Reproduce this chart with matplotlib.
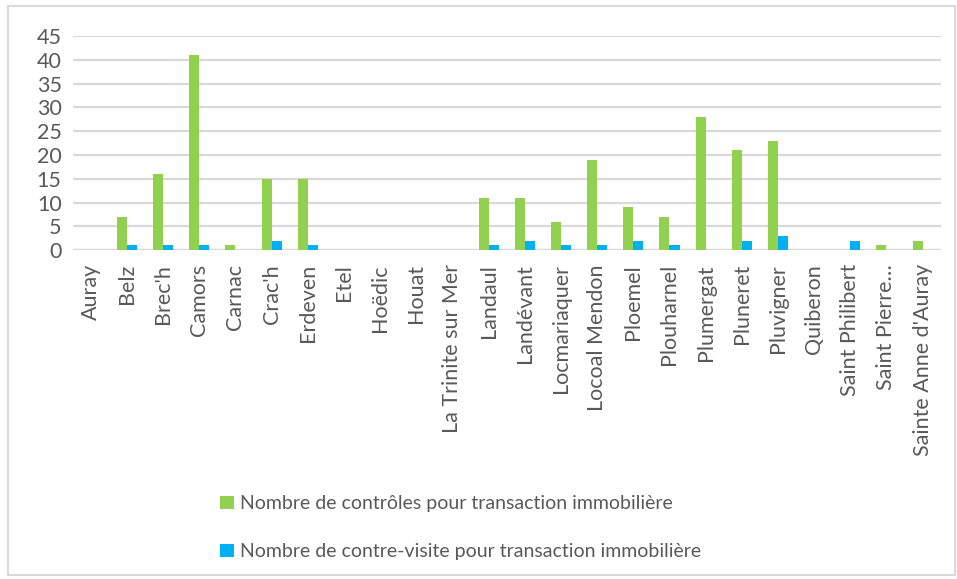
import matplotlib
matplotlib.use("Agg")
import matplotlib.pyplot as plt
import numpy as np
from matplotlib.patches import Rectangle

plt.rcParams["font.family"] = ["Lato", "DejaVu Sans"]

communes = ["Auray", "Belz", "Brec'h", "Camors", "Carnac", "Crac'h", "Erdeven",
            "Etel", "Hoëdic", "Houat", "La Trinite sur Mer", "Landaul",
            "Landévant", "Locmariaquer", "Locoal Mendon", "Ploemel",
            "Plouharnel", "Plumergat", "Pluneret", "Pluvigner", "Quiberon",
            "Saint Philibert", "Saint Pierre…", "Sainte Anne d'Auray"]
controles = [0, 7, 16, 41, 1, 15, 15, 0, 0, 0, 0, 11, 11, 6, 19, 9, 7, 28,
             21, 23, 0, 0, 1, 2]
contre_visites = [0, 1, 1, 1, 0, 2, 1, 0, 0, 0, 0, 1, 2, 1, 1, 2, 1, 0,
                  2, 3, 0, 2, 0, 0]
yticks = list(range(0, 50, 5))

GREEN = "#92D050"
BLUE = "#00B0F0"
GRID = "#D9D9D9"
TXT = "#595959"

fig = plt.figure(figsize=(9.57, 5.79), dpi=100)
ax = fig.add_axes([0.076, 0.568, 0.907, 0.370])

x = np.arange(len(communes))
w = 0.28
ax.bar(x - w / 2, controles, w, color=GREEN, zorder=3,
       label="Nombre de contrôles pour transaction immobilière")
ax.bar(x + w / 2, contre_visites, w, color=BLUE, zorder=3,
       label="Nombre de contre-visite pour transaction immobilière")

ax.set_xlim(-0.5, len(communes) - 0.5)
ax.set_ylim(0, 45)
ax.set_yticks(yticks)
ax.yaxis.grid(True, color=GRID, linewidth=1.6, zorder=0)
ax.set_axisbelow(True)
for s in ax.spines.values():
    s.set_visible(False)
ax.axhline(0, color=GRID, linewidth=1.6, zorder=1)

ax.set_xticks(x)
ax.set_xticklabels(communes, rotation=90, fontsize=15.5, color=TXT)
ax.tick_params(axis="both", length=0, labelsize=15.5, labelcolor=TXT)
ax.tick_params(axis="x", pad=10)
ax.tick_params(axis="y", pad=8)

fig.legend(loc="upper left", bbox_to_anchor=(0.222, 0.158),
           bbox_transform=fig.transFigure, frameon=False, fontsize=14,
           labelcolor=TXT, handlelength=0.7, handleheight=0.7,
           handletextpad=0.3, labelspacing=1.6, borderaxespad=0)

fig.patches.append(Rectangle((0.008, 0.007), 0.990, 0.982,
                             transform=fig.transFigure, fill=False,
                             edgecolor=GRID, linewidth=1.5))

fig.savefig("out.png", dpi=100)
